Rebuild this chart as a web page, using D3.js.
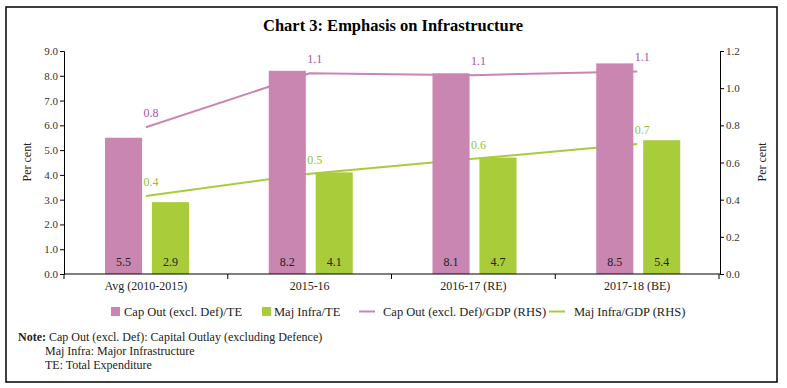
<!DOCTYPE html>
<html><head><meta charset="utf-8">
<script src="https://cdn.jsdelivr.net/npm/d3@7"></script>
<style>body{margin:0;background:#fff}svg text{font-family:"Liberation Serif","DejaVu Serif",serif}</style>
</head><body><svg id="c" width="787" height="388"></svg>
<script>
const categories = ["Avg (2010-2015)", "2015-16", "2016-17 (RE)", "2017-18 (BE)"];
const capOutTE = [5.5, 8.2, 8.1, 8.5];
const majInfraTE = [2.9, 4.1, 4.7, 5.4];
const capOutGDP = [0.79, 1.08, 1.07, 1.09];
const majInfraGDP = [0.42, 0.54, 0.62, 0.70];
const leftTicks = [0,1,2,3,4,5,6,7,8,9];
const rightTicks = [0,0.2,0.4,0.6,0.8,1.0,1.2];
const seriesNames = ["Cap Out (excl. Def)/TE", "Maj Infra/TE", "Cap Out (excl. Def)/GDP (RHS)", "Maj Infra/GDP (RHS)"];

const pink = "#C886B0", green = "#A8CC3A", pinkText = "#A8539A", greenText = "#8CC63E";
const svg = d3.select("#c");
svg.append("rect").attr("x",6).attr("y",7).attr("width",771).attr("height",375).attr("fill","none").attr("stroke","#000").attr("stroke-width",1.5);
svg.append("text").attr("x",393).attr("y",31).attr("text-anchor","middle").attr("font-size",16.5).attr("font-weight","bold").text("Chart 3: Emphasis on Infrastructure");

const L = 64, R = 720, T = 51, B = 274;
const x0 = d3.scaleBand().domain(categories).range([L, 719]);
const x1 = d3.scaleBand().domain(["a","b"]).range([41, 125]).paddingInner(0.21);
const yL = d3.scaleLinear().domain([0,9]).range([B,T]);
const yR = d3.scaleLinear().domain([0,1.2]).range([B,T]);
const cx = c => x0(c) + x0.bandwidth()/2;

// lines (behind bars)
const line = d3.line().x((d,i)=>cx(categories[i])).y(d=>yR(d));
svg.append("path").datum(capOutGDP).attr("d",line).attr("fill","none").attr("stroke",pink).attr("stroke-width",2);
svg.append("path").datum(majInfraGDP).attr("d",line).attr("fill","none").attr("stroke",green).attr("stroke-width",2);

// bars
const bars = [[capOutTE,"a",pink],[majInfraTE,"b",green]];
bars.forEach(([vals,k,col])=>{
  svg.selectAll(null).data(vals).enter().append("rect")
    .attr("x",(d,i)=>x0(categories[i])+x1(k)).attr("width",x1.bandwidth())
    .attr("y",d=>yL(d)).attr("height",d=>B-yL(d)).attr("fill",col);
  svg.selectAll(null).data(vals).enter().append("text")
    .attr("x",(d,i)=>x0(categories[i])+x1(k)+x1.bandwidth()/2).attr("y",B-8)
    .attr("text-anchor","middle").attr("font-size",12).attr("fill","#222").text(d=>d3.format(".1f")(d));
});

// line labels
const f1 = d3.format(".1f");
[[capOutGDP,pinkText],[majInfraGDP,greenText]].forEach(([vals,col])=>{
  svg.selectAll(null).data(vals).enter().append("text")
    .attr("x",(d,i)=>cx(categories[i])+5).attr("y",d=>yR(d)-10)
    .attr("text-anchor","middle").attr("font-size",12).attr("fill",col).text(d=>f1(d));
});

// axes
const gL = svg.append("g").attr("transform",`translate(${L},0)`).call(d3.axisLeft(yL).tickValues(leftTicks).tickFormat(d3.format(".1f")).tickSize(4));
const gR = svg.append("g").attr("transform",`translate(${R},0)`).call(d3.axisRight(yR).tickValues(rightTicks).tickFormat(d3.format(".1f")).tickSize(4));
[gL,gR].forEach(g=>{g.select(".domain").attr("stroke","#000"); g.selectAll("text").attr("font-size",11).attr("fill","#333").attr("font-family","Liberation Serif"); g.selectAll("line").attr("stroke","#000");});
gL.selectAll(".tick text").attr("x",-6);
gR.selectAll(".tick text").attr("x",6);
// x axis
svg.append("line").attr("x1",L).attr("x2",R).attr("y1",B).attr("y2",B).attr("stroke","#000");
const bounds = categories.map(c=>x0(c)).concat([x0.range()[1]]);
svg.selectAll(null).data(bounds).enter().append("line").attr("x1",d=>d).attr("x2",d=>d).attr("y1",B).attr("y2",B+5).attr("stroke","#000");
svg.selectAll(null).data(categories).enter().append("text").attr("x",d=>cx(d)).attr("y",290).attr("text-anchor","middle").attr("font-size",12).attr("fill","#222").text(d=>d);

svg.append("text").attr("transform","translate(31,162) rotate(-90)").attr("text-anchor","middle").attr("font-size",12).attr("fill","#222").text("Per cent");
svg.append("text").attr("transform","translate(766,162) rotate(-90)").attr("text-anchor","middle").attr("font-size",12).attr("fill","#222").text("Per cent");

// legend
const leg = [[111,"rect",pink],[262,"rect",green],[359,"line",pink],[549,"line",green]];
const legText = [124,274,383,574];
leg.forEach(([xx,type,col],i)=>{
  if(type==="rect") svg.append("rect").attr("x",xx).attr("y",307).attr("width",9).attr("height",9).attr("fill",col);
  else svg.append("line").attr("x1",xx).attr("x2",xx+16).attr("y1",311.5).attr("y2",311.5).attr("stroke",col).attr("stroke-width",2);
  svg.append("text").attr("x",legText[i]).attr("y",316).attr("font-size",12.5).attr("fill","#222").text(seriesNames[i]);
});

// note
const nt = svg.append("text").attr("x",18).attr("y",341).attr("font-size",12).attr("fill","#222");
nt.append("tspan").attr("font-weight","bold").text("Note:");
nt.append("tspan").text(" Cap Out (excl. Def): Capital Outlay (excluding Defence)");
svg.append("text").attr("x",45).attr("y",355).attr("font-size",12).attr("fill","#222").text("Maj Infra: Major Infrastructure");
svg.append("text").attr("x",45).attr("y",369).attr("font-size",12).attr("fill","#222").text("TE: Total Expenditure");
</script></body></html>
